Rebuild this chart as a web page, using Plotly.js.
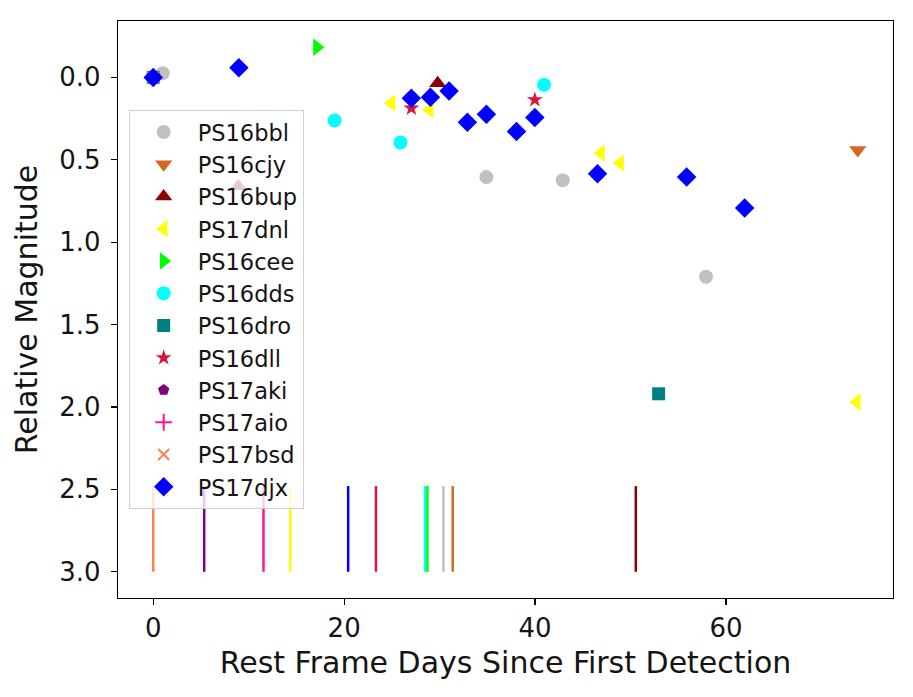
<!DOCTYPE html>
<html>
<head>
<meta charset="utf-8">
<script src="https://cdn.plot.ly/plotly-3.0.1.min.js"></script>
<style>
  html, body { margin: 0; padding: 0; background: #ffffff; }
  #chart { width: 913px; height: 697px; }
</style>
</head>
<body>
<div id="chart"></div>
<script>
// Supernova light curves: magnitude relative to first detection vs. rest-frame days.
const names   = ["PS16bbl", "PS16cjy", "PS16bup", "PS17dnl", "PS16cee", "PS16dds",
                 "PS16dro", "PS16dll", "PS17aki", "PS17aio", "PS17bsd", "PS17djx"];
const colors  = ["#C0C0C0", "#D2691E", "#8B0000", "#FFFF00", "#00FF00", "#00FFFF",
                 "#008080", "#DC143C", "#800080", "#FF1493", "#FF7F50", "#0000FF"];
const symbols = ["circle", "triangle-down", "triangle-up", "triangle-left", "triangle-right", "circle",
                 "square", "star", "pentagon", "cross-thin", "x-thin", "diamond"];
const sizes   = [14, 15, 15, 15, 15, 14, 13, 12, 12, 12, 11, 15];

// Rest-frame days since first detection, per object
const days = {
  PS16bbl: [0, 1.0, 34.9, 42.9, 57.9],
  PS16cjy: [73.8],
  PS16bup: [8.9, 29.8],
  PS17dnl: [24.95, 28.96, 46.9, 48.9, 73.7],
  PS16cee: [17.15],
  PS16dds: [0, 19.0, 25.9, 40.94],
  PS16dro: [0, 52.94],
  PS16dll: [0, 27.04, 39.97],
  PS17aki: [0],
  PS17aio: [0],
  PS17bsd: [0],
  PS17djx: [0, 8.97, 27.04, 29.04, 30.99, 32.91, 34.9, 38.05, 39.97, 46.54, 55.87, 61.95]
};

// Magnitude relative to the first detection
const relMag = {
  PS16bbl: [0, -0.025, 0.605, 0.624, 1.21],
  PS16cjy: [0.44],
  PS16bup: [0.66, 0.035],
  PS17dnl: [0.156, 0.197, 0.459, 0.52, 1.97],
  PS16cee: [-0.183],
  PS16dds: [0, 0.262, 0.395, 0.045],
  PS16dro: [0, 1.92],
  PS16dll: [0, 0.187, 0.136],
  PS17aki: [0],
  PS17aio: [0],
  PS17bsd: [0],
  PS17djx: [0, -0.059, 0.126, 0.12, 0.082, 0.272, 0.223, 0.328, 0.244, 0.585, 0.605, 0.793]
};

// Event epochs marked along the bottom, one per object (days)
const markerDays = {
  PS17bsd: 0.0,
  PS17aki: 5.34,
  PS17aio: 11.55,
  PS17dnl: 14.35,
  PS17djx: 20.42,
  PS16dll: 23.33,
  PS16dds: 28.47,
  PS16cee: 28.72,
  PS16bbl: 30.4,
  PS16cjy: 31.37,
  PS16bup: 50.55
};
const markerSpan = [2.48, 3.0];

const traces = [];

// vertical epoch ticks
Object.keys(markerDays).forEach(function (n) {
  const c = colors[names.indexOf(n)];
  traces.push({
    type: "scatter", mode: "lines",
    x: [markerDays[n], markerDays[n]], y: markerSpan,
    line: { color: c, width: 2.5 },
    showlegend: false, hoverinfo: "skip"
  });
});

// light-curve points
names.forEach(function (n, i) {
  const thin = symbols[i].indexOf("thin") >= 0;
  traces.push({
    type: "scatter", mode: "markers", name: n,
    x: days[n], y: relMag[n],
    marker: {
      symbol: symbols[i], size: sizes[i], color: colors[i],
      line: thin ? { color: colors[i], width: 2 } : { width: 0 }
    }
  });
});

// axis limits with 5% padding around all drawn values
const allX = [].concat.apply([], names.map(n => days[n])).concat(Object.values(markerDays));
const allY = [].concat.apply([], names.map(n => relMag[n])).concat(markerSpan);
function padded(v) {
  const lo = Math.min.apply(null, v), hi = Math.max.apply(null, v), p = 0.05 * (hi - lo);
  return [lo - p, hi + p];
}
const xr = padded(allX), yr = padded(allY);

const font = "DejaVu Sans, sans-serif";
const ink = "#141414";
const layout = {
  width: 913, height: 697,
  margin: { l: 118, r: 20, t: 21, b: 99, pad: 0 },
  paper_bgcolor: "#ffffff", plot_bgcolor: "#ffffff",
  font: { family: font, color: ink },
  showlegend: true,
  legend: {
    x: 0.0138, y: 0.846, xanchor: "left", yanchor: "top",
    bgcolor: "rgba(255,255,255,0.8)", bordercolor: "#d0d0d0", borderwidth: 1,
    font: { family: font, size: 22.5, color: ink },
    itemwidth: 58
  },
  xaxis: {
    range: xr, tickvals: [0, 20, 40, 60],
    showgrid: false, zeroline: false,
    showline: true, mirror: true, linecolor: "#000000", linewidth: 1.3,
    ticks: "outside", ticklen: 6, tickwidth: 1.3, tickcolor: "#000000",
    tickfont: { family: font, size: 26, color: ink },
    title: { text: "Rest Frame Days Since First Detection", font: { family: font, size: 30, color: ink }, standoff: 10 },
    automargin: false
  },
  yaxis: {
    range: [yr[1], yr[0]], tick0: 0, dtick: 0.5, tickformat: ".1f",
    showgrid: false, zeroline: false,
    showline: true, mirror: true, linecolor: "#000000", linewidth: 1.3,
    ticks: "outside", ticklen: 6, tickwidth: 1.3, tickcolor: "#000000",
    tickfont: { family: font, size: 26, color: ink },
    ticklabelstandoff: 5,
    title: { text: "Relative Magnitude", font: { family: font, size: 30, color: ink }, standoff: 12 },
    automargin: false
  }
};

Plotly.newPlot("chart", traces, layout, { displayModeBar: false, staticPlot: true });
</script>
</body>
</html>
